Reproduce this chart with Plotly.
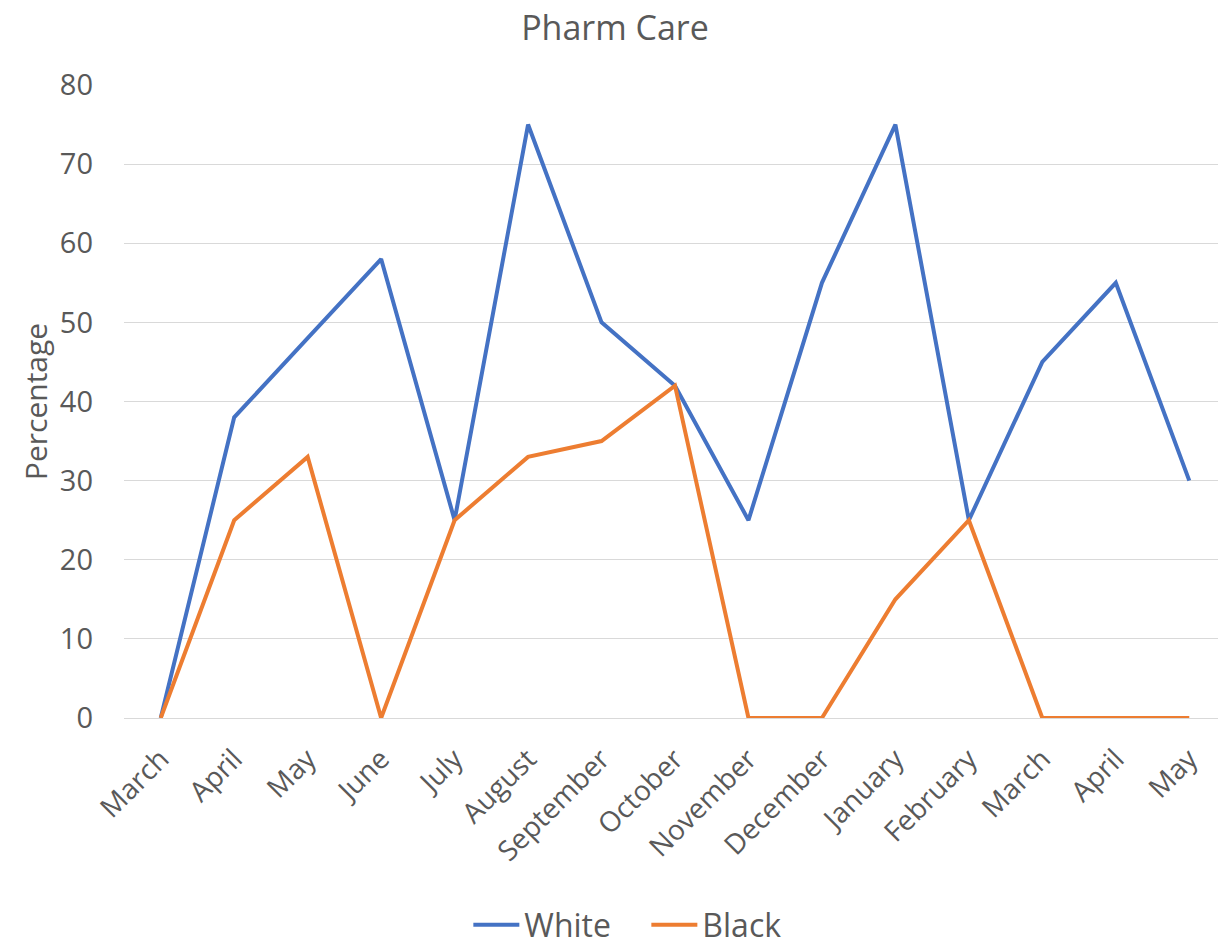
import plotly.graph_objects as go

months = ["March", "April", "May", "June", "July", "August", "September",
          "October", "November", "December", "January", "February",
          "March", "April", "May"]
white = [0, 38, 48, 58, 25, 75, 50, 42, 25, 55, 75, 25, 45, 55, 30]
black = [0, 25, 33, 0, 25, 33, 35, 42, 0, 0, 15, 25, 0, 0, 0]

pos = list(range(len(months)))
grey = "#595959"
font = "'Open Sans', sans-serif"

# page body has an 8px margin, so the figure is a bit smaller than the window
W, H = 1218, 938

fig = go.Figure()
fig.add_trace(go.Scatter(x=pos, y=white, name="White", mode="lines",
                         line=dict(color="#4472C4", width=4)))
fig.add_trace(go.Scatter(x=pos, y=black, name="Black", mode="lines",
                         line=dict(color="#ED7D31", width=4)))

fig.update_layout(
    width=W, height=H,
    margin=dict(l=116, r=0, t=77, b=228, autoexpand=False),
    paper_bgcolor="white", plot_bgcolor="white",
    font=dict(family=font, color=grey, size=28),
    title=dict(text="Pharm Care", x=(615 - 8) / W, xref="container",
               xanchor="center", y=1 - 8 / H, yanchor="top",
               font=dict(size=34, color=grey, family=font)),
    showlegend=True,
    legend=dict(orientation="h", x=0.474, xanchor="center", y=-0.327,
                yanchor="middle", font=dict(size=32, color=grey),
                itemwidth=46, entrywidth=117, tracegroupgap=0),
)
fig.update_xaxes(
    range=[-0.5, len(months) - 0.5], automargin=False,
    tickmode="array", tickvals=pos, ticktext=months,
    tickangle=-45, showgrid=False, zeroline=False,
    showline=False, tickfont=dict(size=28, color=grey),
    ticklabelstandoff=18,
)
fig.update_yaxes(
    range=[0, 80], dtick=10, automargin=False,
    showgrid=True, gridcolor="#D9D9D9", gridwidth=1.3,
    zeroline=True, zerolinecolor="#D9D9D9", zerolinewidth=1.3,
    showline=False, tickfont=dict(size=29, color=grey),
    ticklabelstandoff=30,
    title=dict(text="Percentage", font=dict(size=30, color=grey), standoff=3),
)

fig.write_html("out.html")
